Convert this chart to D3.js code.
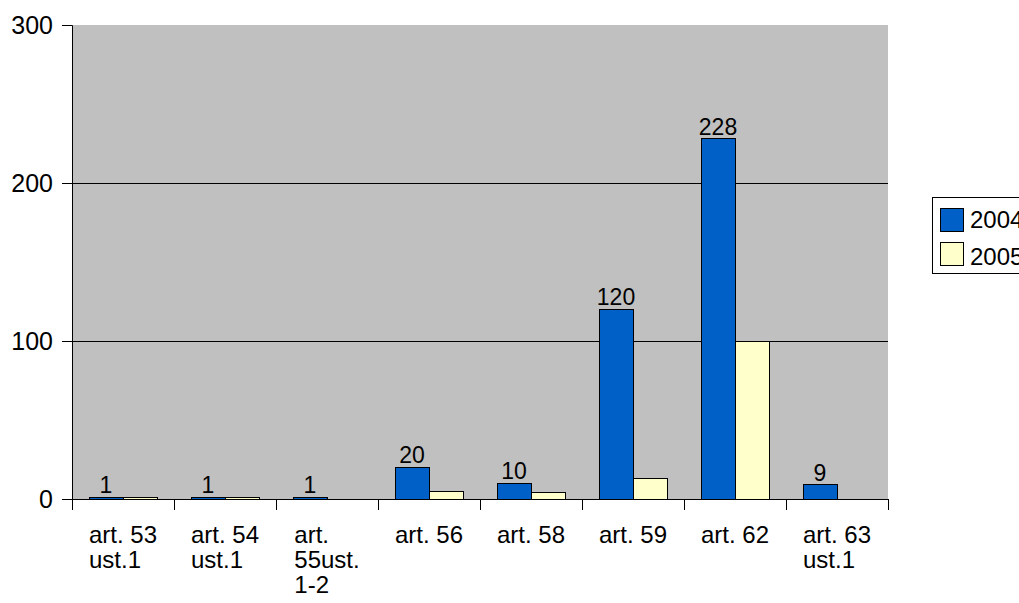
<!DOCTYPE html>
<html>
<head>
<meta charset="utf-8">
<script src="https://cdn.jsdelivr.net/npm/d3@7"></script>
<style>
  html, body { margin: 0; padding: 0; background: #fff; }
  svg text { font-family: "Liberation Sans", Arial, sans-serif; fill: #000; }
</style>
</head>
<body>
<svg id="chart" width="1019" height="603"></svg>
<script>
// Article categories (multi-line labels) and yearly counts
const categories = ["art. 53 ust.1", "art. 54 ust.1", "art. 55ust. 1-2", "art. 56", "art. 58", "art. 59", "art. 62", "art. 63 ust.1"];
const categoryLines = [["art. 53", "ust.1"], ["art. 54", "ust.1"], ["art.", "55ust.", "1-2"], ["art. 56"], ["art. 58"], ["art. 59"], ["art. 62"], ["art. 63", "ust.1"]];
const seriesNames = ["2004", "2005"];
const values2004 = [1, 1, 1, 20, 10, 120, 228, 9];
const values2005 = [1, 1, 0, 5, 4, 13, 100, 0];
const yTicks = [0, 100, 200, 300];
const seriesColors = ["#0060c8", "#ffffcc"];

const svg = d3.select("#chart");
const plot = { left: 72, right: 888, top: 25, bottom: 499 };

const x = d3.scaleBand().domain(categories).range([plot.left, plot.right]).paddingInner(0).paddingOuter(0);
const xSub = d3.scaleBand().domain(seriesNames).range([0, x.bandwidth()]).paddingInner(0).paddingOuter(0.5);
const y = d3.scaleLinear().domain([0, 300]).range([plot.bottom, plot.top]);

// plot background
svg.append("rect")
  .attr("x", plot.left).attr("y", plot.top)
  .attr("width", plot.right - plot.left).attr("height", plot.bottom - plot.top)
  .attr("fill", "#c0c0c0");

// horizontal gridlines
svg.append("g").selectAll("line")
  .data(yTicks.filter(d => d > 0 && d < 300))
  .join("line")
  .attr("x1", plot.left).attr("x2", plot.right)
  .attr("y1", d => y(d)).attr("y2", d => y(d))
  .attr("stroke", "#000").attr("stroke-width", 1).attr("shape-rendering", "crispEdges");

// bars
const rows = categories.map((c, i) => ({ cat: c, vals: [values2004[i], values2005[i]] }));
const groups = svg.append("g").selectAll("g")
  .data(rows).join("g")
  .attr("transform", d => `translate(${x(d.cat)},0)`);

groups.selectAll("rect")
  .data(d => d.vals.map((v, k) => ({ name: seriesNames[k], v, k })))
  .join("rect")
  .attr("x", d => xSub(d.name))
  .attr("width", xSub.bandwidth())
  .attr("y", d => y(d.v))
  .attr("height", d => y(0) - y(d.v))
  .attr("fill", d => seriesColors[d.k])
  .attr("stroke", "#000").attr("stroke-width", 1)
  .attr("shape-rendering", "crispEdges");

// value labels above 2004 bars
groups.append("text")
  .attr("x", xSub("2004") + xSub.bandwidth() / 2)
  .attr("y", d => y(d.vals[0]) - 4)
  .attr("text-anchor", "middle")
  .attr("font-size", 23)
  .text(d => d.vals[0]);

// y axis
const yAxis = d3.axisLeft(y).tickValues(yTicks).tickSize(10).tickPadding(9);
const yg = svg.append("g").attr("transform", `translate(${plot.left},0)`).call(yAxis);
yg.select(".domain").attr("stroke", "#000");
yg.selectAll(".tick line").attr("stroke", "#000");
yg.selectAll(".tick text").attr("font-size", 25).attr("font-family", "Liberation Sans, Arial, sans-serif").attr("fill", "#000");

// x axis baseline with category boundary ticks
const bounds = categories.map(c => x(c)).concat([plot.right]);
svg.append("line")
  .attr("x1", plot.left).attr("x2", plot.right)
  .attr("y1", plot.bottom).attr("y2", plot.bottom)
  .attr("stroke", "#000").attr("shape-rendering", "crispEdges");
svg.append("g").selectAll("line")
  .data(bounds).join("line")
  .attr("x1", d => d).attr("x2", d => d)
  .attr("y1", plot.bottom).attr("y2", plot.bottom + 11)
  .attr("stroke", "#000").attr("shape-rendering", "crispEdges");

// category labels: left-aligned block centred under each category
categories.forEach((c, i) => {
  const t = svg.append("text").attr("font-size", 24);
  categoryLines[i].forEach((line, j) => {
    t.append("tspan").attr("x", 0).attr("y", 543 + j * 25).text(line);
  });
  const w = t.node().getBBox().width;
  const cx = x(c) + x.bandwidth() / 2;
  t.attr("transform", `translate(${cx - w / 2},0)`);
});

// legend
const lg = svg.append("g").attr("transform", "translate(932,197)");
lg.append("rect").attr("x", 0.5).attr("y", 0.5).attr("width", 120).attr("height", 76)
  .attr("fill", "#fff").attr("stroke", "#000");
seriesNames.forEach((n, k) => {
  lg.append("rect").attr("x", 8.5).attr("y", 11.5 + k * 34).attr("width", 23).attr("height", 23)
    .attr("fill", seriesColors[k]).attr("stroke", "#000");
  lg.append("text").attr("x", 38).attr("y", 31 + k * 37).attr("font-size", 24).text(n);
});
</script>
</body>
</html>
